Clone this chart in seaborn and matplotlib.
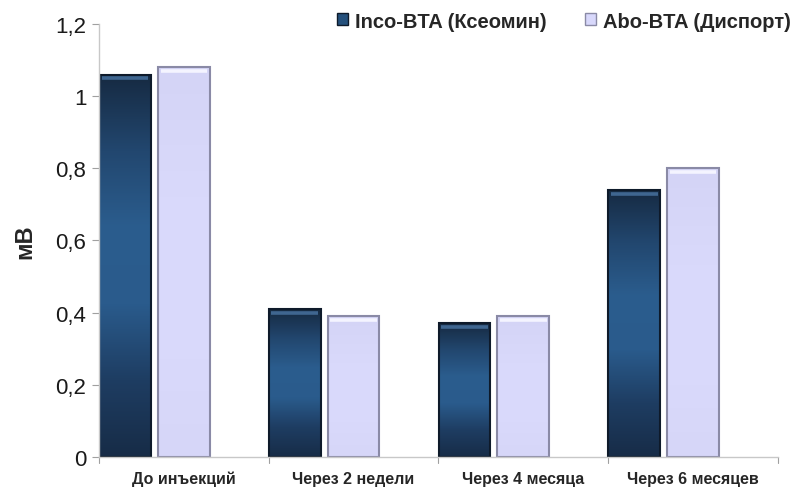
import numpy as np
import pandas as pd
import matplotlib
matplotlib.use("Agg")
import matplotlib.pyplot as plt
from matplotlib.colors import LinearSegmentedColormap
from matplotlib.patches import Patch
import seaborn as sns

# Amplitude values (mV) at each time point
categories = ["До инъекций", "Через 2 недели", "Через 4 месяца", "Через 6 месяцев"]
inco_bta = [1.06, 0.41, 0.37, 0.74]
abo_bta = [1.08, 0.39, 0.39, 0.80]
series_names = ["Inco-BTA (Ксеомин)", "Abo-BTA (Диспорт)"]
y_ticks = [0, 0.2, 0.4, 0.6, 0.8, 1.0, 1.2]
y_tick_labels = ["0", "0,2", "0,4", "0,6", "0,8", "1", "1,2"]

df = pd.DataFrame({
    "Период": categories * 2,
    "Значение": inco_bta + abo_bta,
    "Препарат": [series_names[0]] * 4 + [series_names[1]] * 4,
})

sns.set_style("white")
regular = ["Liberation Sans", "DejaVu Sans"]
plt.rcParams["font.family"] = regular

fig = plt.figure(figsize=(8.02, 4.89), dpi=100)
ax = fig.add_axes([0.1234, 0.0634, 0.8466, 0.8855])

dark_base = "#24507c"
light_base = "#d8d8fb"
# a third, empty series slot keeps the pair left of each category centre
sns.barplot(data=df, x="Период", y="Значение", hue="Препарат",
            order=categories, hue_order=series_names + [" "],
            palette=[dark_base, light_base, "white"], width=1.04, gap=0.12,
            ax=ax, legend=False, errorbar=None)

ax.set_xlim(-0.5, len(categories) - 0.5)
ax.set_ylim(0, 1.2)

# Gradient fills clipped to each bar
dark_cmap = LinearSegmentedColormap.from_list(
    "dark", ["#172c47", "#1e3d62", "#2a5b8c", "#2b5d8e", "#22476f", "#162a42"])
light_cmap = LinearSegmentedColormap.from_list(
    "light", ["#d6d6f8", "#dadafc", "#d9d9fb", "#d4d4f6"])
grad = np.linspace(1, 0, 256).reshape(-1, 1)

bars = [p for p in ax.patches if p.get_height() > 0]
n = len(categories)
for i, patch in enumerate(bars[:2 * n]):
    x0, y0 = patch.get_x(), patch.get_y()
    w, h = patch.get_width(), patch.get_height()
    is_dark = i < n
    cmap = dark_cmap if is_dark else light_cmap
    img = ax.imshow(grad, cmap=cmap, aspect="auto",
                    extent=[x0, x0 + w, y0, y0 + h], origin="upper",
                    zorder=patch.get_zorder() + 0.1)
    img.set_clip_path(patch)
    patch.set_edgecolor("#0e1a2a" if is_dark else "#8a8aa6")
    patch.set_linewidth(1.5)
    patch.set_zorder(patch.get_zorder() + 0.2)
    patch.set_facecolor("none")
    # bevel highlight along the top edge
    ax.plot([x0 + w * 0.05, x0 + w * 0.95], [y0 + h - 0.011, y0 + h - 0.011],
            color="#3f6690" if is_dark else "#f4f4ff", lw=2.6,
            solid_capstyle="butt", zorder=patch.get_zorder() + 0.1)

ax.set_yticks(y_ticks)
ax.set_yticklabels(y_tick_labels, fontsize=16, color="#1a1a1a")
ax.set_xticks(range(n))
ax.set_xticklabels(categories, fontsize=11.5, fontweight="bold")
ax.tick_params(axis="x", length=0, pad=10)
ax.tick_params(axis="y", length=5, width=0.8, color="#a0a0a0", left=True, pad=4)

# category separators on the x axis
for b in np.arange(-0.5, n, 1.0):
    ax.plot([b, b], [0, -0.016], color="#a0a0a0", lw=0.8, clip_on=False)

for side in ["top", "right"]:
    ax.spines[side].set_visible(False)
for side in ["left", "bottom"]:
    ax.spines[side].set_color("#c8c8c8")
    ax.spines[side].set_linewidth(1.0)

ax.set_xlabel("")
ax.set_ylabel("мВ", fontsize=17, fontweight="bold", labelpad=14)

handles = [Patch(facecolor=dark_base, edgecolor="#0e1a2a"),
           Patch(facecolor=light_base, edgecolor="#8a8aa6")]
fig.legend(handles, series_names, loc="center left",
           bbox_to_anchor=(0.398, 0.955), ncol=2, frameon=False,
           handlelength=0.55, handleheight=0.55, handletextpad=0.35,
           columnspacing=1.9,
           prop={"weight": "bold", "size": 14.5})

fig.savefig("out.png", dpi=100)
